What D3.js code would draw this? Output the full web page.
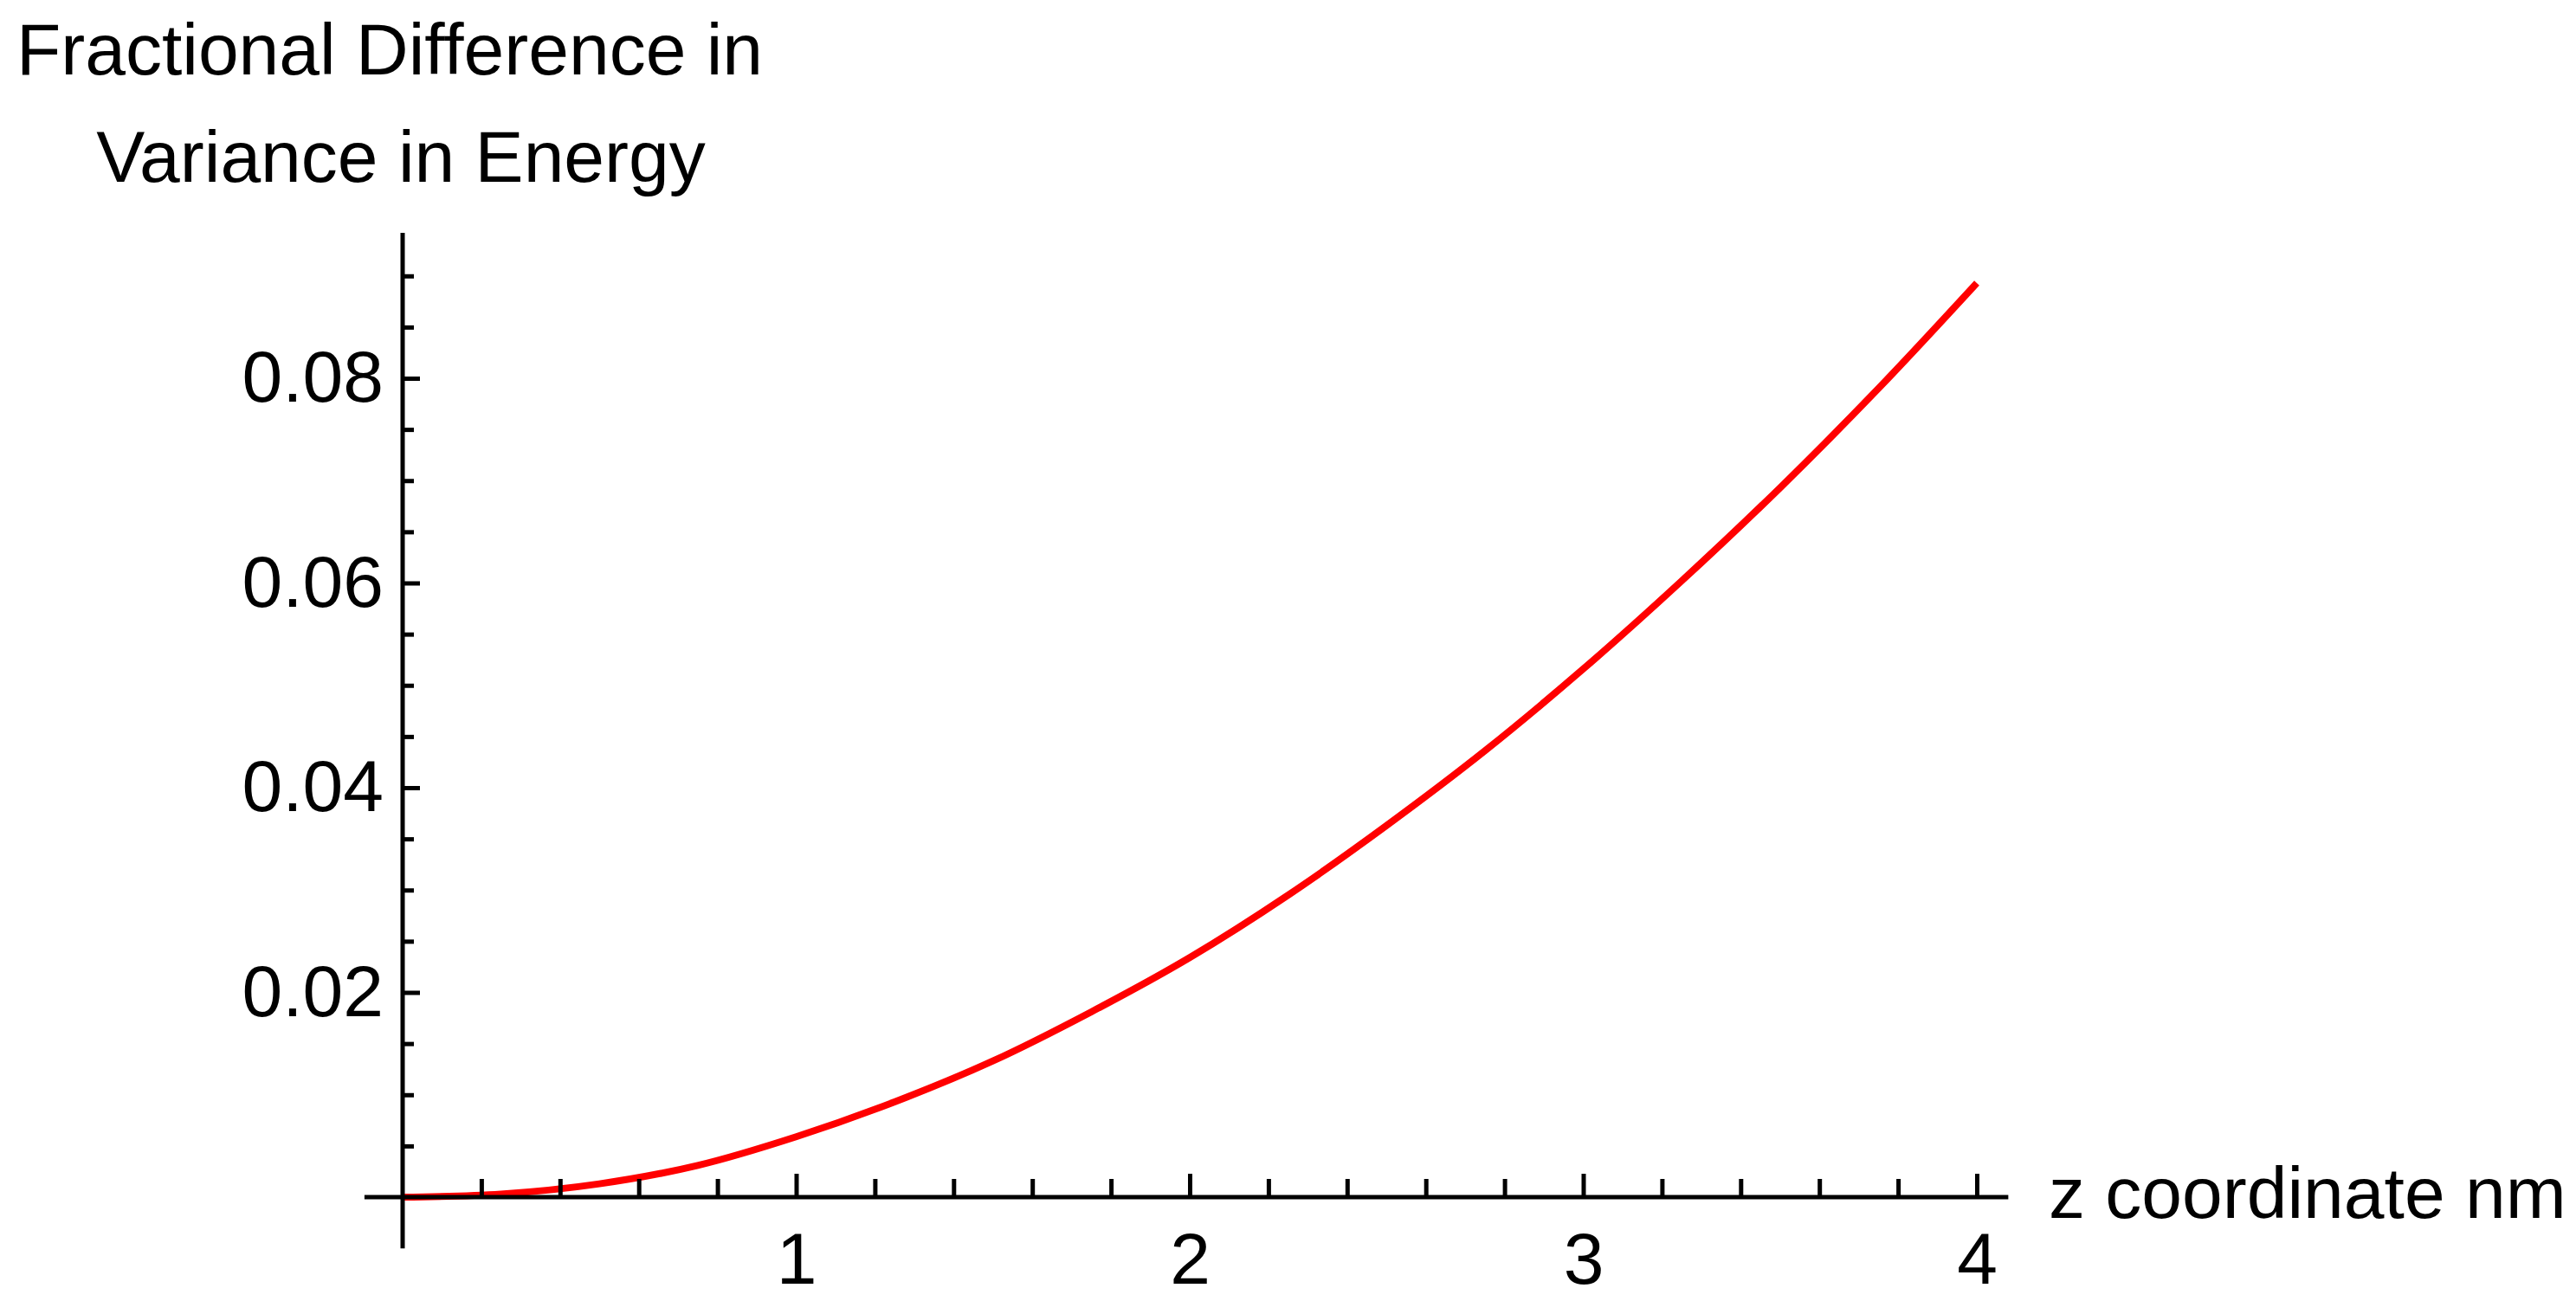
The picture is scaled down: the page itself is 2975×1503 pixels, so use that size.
<!DOCTYPE html>
<html>
<head>
<meta charset="utf-8">
<script src="https://cdn.jsdelivr.net/npm/d3@7/dist/d3.min.js"></script>
<style>
    html, body { margin: 0; padding: 0; background: #fff; }
    svg text { font-family: "Liberation Sans", Arial, sans-serif; fill: #000; }
</style>
</head>
<body>
<svg id="chart" width="2975" height="1503"></svg>
<script>
'use strict';

// z coordinate (nm) and fractional difference
var zValues = [0, 0.25, 0.5, 0.75, 1.0, 1.25, 1.5, 1.75, 2.0, 2.25, 2.5, 2.75, 3.0, 3.25, 3.5, 3.75, 4.0];
var fracDiff = [0, 0.0003, 0.0013, 0.0031, 0.0059, 0.0093, 0.0133, 0.0181, 0.0234, 0.0295, 0.0363, 0.0436, 0.0516, 0.0602, 0.0693, 0.0790, 0.0893];

var xMajorTicks = [1, 2, 3, 4];
var xMinorTicks = [0.2, 0.4, 0.6, 0.8, 1.2, 1.4, 1.6, 1.8, 2.2, 2.4, 2.6, 2.8, 3.2, 3.4, 3.6, 3.8];
var yMajorTicks = [0.02, 0.04, 0.06, 0.08];
var yMinorTicks = [0.005, 0.01, 0.015, 0.025, 0.03, 0.035, 0.045, 0.05, 0.055, 0.065, 0.07, 0.075, 0.085, 0.09];

var yTitleLines = ["Fractional Difference in", "Variance in Energy"];
var xTitle = "z coordinate nm";

var svg = d3.select("#chart");
var fontSize = 84;

var x = d3.scaleLinear().domain([0, 4]).range([465, 2283]);
var y = d3.scaleLinear().domain([0, 0.08]).range([1383, 437]);

svg.append("rect")
    .attr("width", 2975)
    .attr("height", 1503)
    .attr("fill", "#fff");

// curve first, axes are painted over it
var line = d3.line()
    .x(function (d, i) { return x(zValues[i]); })
    .y(function (d) { return y(d); })
    .curve(d3.curveCatmullRom);

svg.append("path")
    .datum(fracDiff)
    .attr("d", line)
    .attr("fill", "none")
    .attr("stroke", "#ff0000")
    .attr("stroke-width", 8)
    .attr("stroke-linecap", "butt");

function styleAxis(g) {
    g.select(".domain").remove();
    g.selectAll(".tick line")
        .attr("stroke", "#000")
        .attr("stroke-width", 5);
    g.selectAll(".tick text")
        .attr("font-size", fontSize)
        .attr("font-family", "\"Liberation Sans\", Arial, sans-serif");
}

// x axis: minor then major ticks, pointing up
svg.append("g")
    .attr("transform", "translate(0," + y(0) + ")")
    .call(d3.axisBottom(x).tickValues(xMinorTicks).tickSize(-21).tickFormat(""))
    .call(styleAxis);

svg.append("g")
    .attr("transform", "translate(0," + y(0) + ")")
    .call(d3.axisBottom(x).tickValues(xMajorTicks).tickSize(-27).tickPadding(40)
        .tickFormat(d3.format("d")))
    .call(styleAxis);

// y axis: ticks pointing right
svg.append("g")
    .attr("transform", "translate(" + x(0) + ",0)")
    .call(d3.axisLeft(y).tickValues(yMinorTicks).tickSize(-13).tickFormat(""))
    .call(styleAxis);

svg.append("g")
    .attr("transform", "translate(" + x(0) + ",0)")
    .call(d3.axisLeft(y).tickValues(yMajorTicks).tickSize(-20).tickPadding(22)
        .tickFormat(d3.format(".2f")))
    .call(styleAxis);

// axis lines
svg.append("line")
    .attr("x1", x(-0.097)).attr("x2", x(4.08))
    .attr("y1", y(0)).attr("y2", y(0))
    .attr("stroke", "#000")
    .attr("stroke-width", 5);

svg.append("line")
    .attr("x1", x(0)).attr("x2", x(0))
    .attr("y1", y(-0.005)).attr("y2", y(0.0942))
    .attr("stroke", "#000")
    .attr("stroke-width", 5);

// axis titles
svg.append("text")
    .attr("x", 2366)
    .attr("y", 1407)
    .attr("font-size", fontSize)
    .text(xTitle);

var titleCenters = [450, 463];
svg.selectAll("text.ytitle")
    .data(yTitleLines)
    .enter()
    .append("text")
    .attr("class", "ytitle")
    .attr("x", function (d, i) { return titleCenters[i]; })
    .attr("y", function (d, i) { return 86 + i * 124; })
    .attr("text-anchor", "middle")
    .attr("font-size", fontSize)
    .text(function (d) { return d; });
</script>
</body>
</html>
